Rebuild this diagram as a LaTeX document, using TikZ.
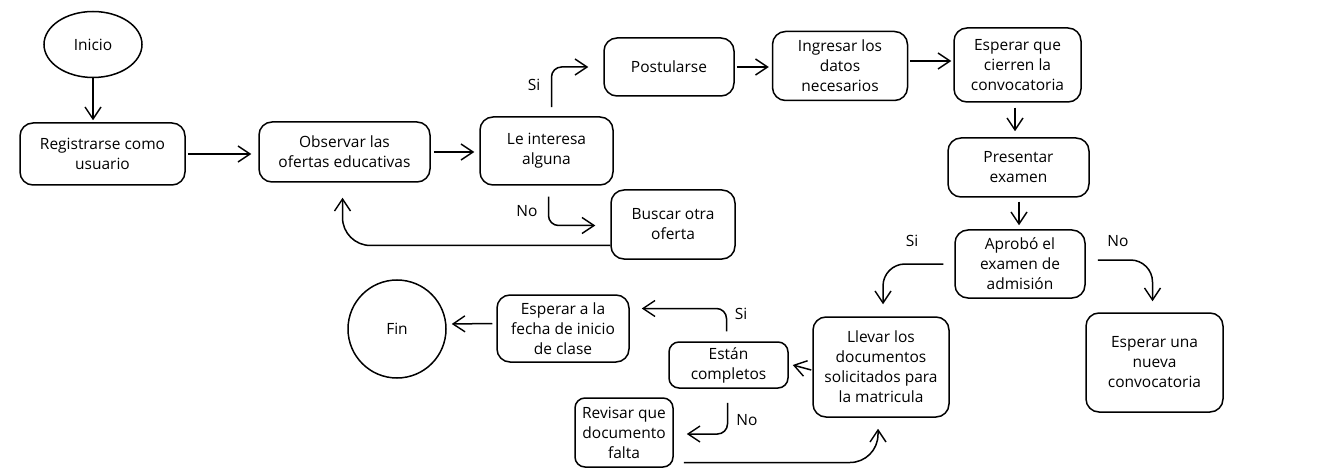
\documentclass[tikz,border=0pt]{standalone}
\usepackage{fontspec}
\setmainfont{Open Sans}
\usetikzlibrary{arrows.meta,shapes.geometric}
\begin{document}
\begin{tikzpicture}[x=1pt,y=-1pt,
  txt/.style={font=\fontsize{15.5}{20}\selectfont},
  box/.style={draw, line width=1.5pt, rounded corners=13pt, align=center, inner sep=0pt, txt},
  arr/.style={draw, line width=1.5pt, -{Straight Barb[length=12pt,width=16pt,line width=1.4pt]}},
  lbl/.style={txt}]
\useasboundingbox (0,0) rectangle (1328,473);
% nodes
\node[draw, line width=1.5pt, ellipse, minimum width=98pt, minimum height=66pt, inner sep=0pt, txt] (ini) at (93,44.5) {Inicio};
\node[box, minimum width=165pt, minimum height=62pt] (reg) at (102.5,154) {Registrarse como\\usuario};
\node[box, minimum width=171pt, minimum height=60pt] (obs) at (344.5,152) {Observar las\\ofertas educativas};
\node[box, minimum width=133pt, minimum height=68pt] (lei) at (546.5,151) {Le interesa\\alguna};
\node[box, minimum width=130pt, minimum height=58pt] (post) at (669,67) {Postularse};
\node[box, minimum width=135pt, minimum height=69pt] (ing) at (840,66) {Ingresar los\\datos\\necesarios};
\node[box, minimum width=127pt, minimum height=74pt] (esp) at (1017.5,65) {Esperar que\\cierren la\\convocatoria};
\node[box, minimum width=141pt, minimum height=59pt] (pres) at (1018.5,167.5) {Presentar\\examen};
\node[box, minimum width=130pt, minimum height=68pt] (apr) at (1020,264) {Aprobó el\\examen de\\admisión};
\node[box, minimum width=137pt, minimum height=99pt] (nue) at (1154.5,362.5) {Esperar una\\nueva\\convocatoria};
\node[box, minimum width=136pt, minimum height=100pt] (llev) at (881,367) {Llevar los\\documentos\\solicitados para\\la matricula};
\node[box, minimum width=119pt, minimum height=46pt, rounded corners=10pt] (est) at (728.5,365) {Están\\completos};
\node[box, minimum width=132pt, minimum height=67pt] (fecha) at (563,328.5) {Esperar a la\\fecha de inicio\\de clase};
\node[box, minimum width=98pt, minimum height=69pt, rounded corners=10pt] (rev) at (624,432.5) {Revisar que\\documento\\falta};
\node[box, minimum width=124pt, minimum height=69pt] (bus) at (673,224.5) {Buscar otra\\oferta};
\node[draw, line width=1.5pt, circle, minimum size=98pt, inner sep=0pt, txt] (fin) at (397,329) {Fin};
% labels
\node[lbl] (l1) at (534,85) {Si};
\node[lbl] (l2) at (527,211) {No};
\node[lbl] (l3) at (912,241) {Si};
\node[lbl] (l4) at (1118,241) {No};
\node[lbl] (l5) at (741,314) {Si};
\node[lbl] (l6) at (747,420) {No};
% connectors
\draw[arr] (ini.south) -- ([yshift=2pt]ini.south |- reg.north);
\draw[arr] ([xshift=2pt]reg.east) -- ([xshift=-7pt]reg.east -| obs.west);
\draw[arr] ([xshift=3pt]obs.east) -- ([xshift=-5pt]obs.east -| lei.west);
\draw[arr, rounded corners=10pt] ([xshift=5pt,yshift=9pt]lei.north) |- ([xshift=-15pt]post.west);
\draw[arr, rounded corners=10pt] ([xshift=2pt,yshift=-11pt]lei.south) |- ([xshift=-15pt,yshift=-1pt]bus.west);
\draw[arr, rounded corners=28pt] ([yshift=-21pt]bus.west) -| ([xshift=-2pt,yshift=-15pt]obs.south);
\draw[arr] ([xshift=2pt]post.east) -- ([xshift=-3pt]post.east -| ing.west);
\draw[arr] ([xshift=2pt,yshift=5pt]ing.east) -- ([xshift=-2pt,yshift=5pt]ing.east -| esp.west);
\draw[arr] ([xshift=-2.5pt,yshift=-5pt]esp.south) -- ([xshift=-2.5pt,yshift=6pt]esp.south |- pres.north);
\draw[arr] ([xshift=0.5pt,yshift=-4pt]pres.south) -- ([xshift=0.5pt,yshift=4pt]pres.south |- apr.north);
\draw[arr, rounded corners=22pt] ([xshift=-11pt]apr.west) -| ([xshift=2pt,yshift=12pt]llev.north);
\draw[arr, rounded corners=22pt] ([xshift=12pt,yshift=4pt]apr.east) -| ([xshift=-2pt,yshift=11pt]nue.north);
\draw[arr] ([xshift=-1pt,yshift=-3pt]llev.west) -- ([xshift=4pt]est.east);
\draw[arr, rounded corners=10pt] ([xshift=-2pt,yshift=10pt]est.north) |- ([xshift=12pt,yshift=20pt]fecha.east);
\draw[arr] ([xshift=-4pt,yshift=5pt]fecha.west) -- ([xshift=5pt,yshift=5pt]fin.east);
\draw[arr, rounded corners=10pt] ([xshift=-1pt,yshift=-14pt]est.south) |- ([xshift=13pt,yshift=-1.5pt]rev.east);
\draw[arr, rounded corners=28pt] ([xshift=10pt,yshift=-30pt]rev.east) -| ([xshift=-3pt,yshift=-11pt]llev.south);
\end{tikzpicture}
\end{document}
